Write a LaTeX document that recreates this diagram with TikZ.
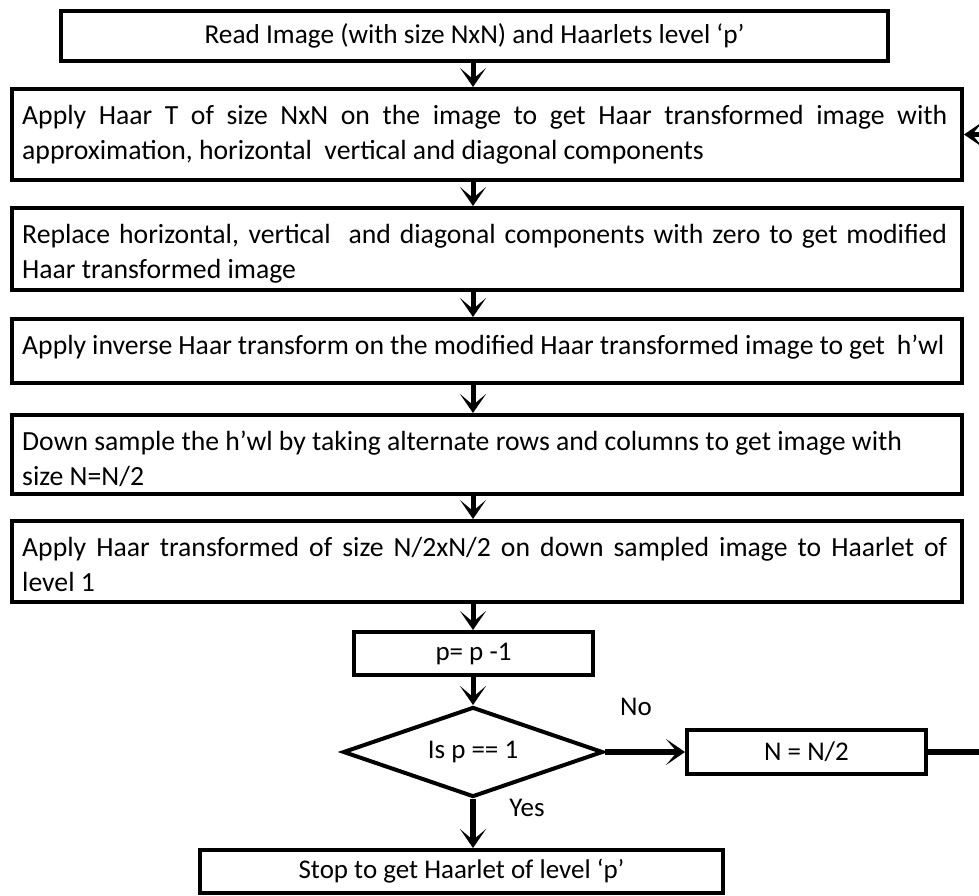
\documentclass[tikz,border=0pt]{standalone}
\usepackage{fontspec}
\setmainfont{Carlito}
\usetikzlibrary{arrows.meta,shapes.geometric,calc}

\tikzset{
  box/.style={draw, line width=4pt, rectangle, inner sep=0pt},
  txt/.style={inner sep=0pt, font=\fontsize{27pt}{35pt}\selectfont},
  body/.style={inner sep=0pt, font=\fontsize{27.7pt}{35pt}\selectfont},
  para/.style={body, anchor=north west, text width=925pt},
  arr/.style={line width=5pt, -{Stealth[length=19pt,width=26pt,inset=11pt]}},
  link/.style={line width=5pt},
}
\newcommand{\firstline}{\rule{0pt}{22pt}}

\begin{document}
\begin{tikzpicture}[x=1pt,y=-1pt]
  \useasboundingbox (0,0) rectangle (979,896);

  % process boxes
  \node[box, txt, font=\fontsize{27.3pt}{35pt}\selectfont, minimum width=827pt, minimum height=50pt] (b1) at (474.5,36)
    {Read Image (with size NxN) and Haarlets level ‘p’};
  \node[box, minimum width=950pt, minimum height=91pt] (b2) at (487,134.5) {};
  \node[box, minimum width=950pt, minimum height=82pt] (b3) at (487,249) {};
  \node[box, minimum width=950pt, minimum height=64pt] (b4) at (487,351) {};
  \node[box, minimum width=950pt, minimum height=79pt] (b5) at (487,454.5) {};
  \node[box, minimum width=950pt, minimum height=81pt] (b6) at (487,561.5) {};

  % box texts
  \node[para, align=justify] (t2) at ([xshift=12pt,yshift=-15pt]b2.north west)
    {\firstline Apply Haar T of size NxN on the image to get Haar transformed image with\linebreak
     approximation, horizontal\ \ vertical and diagonal components};
  \node[para, align=justify] (t3) at ([xshift=12pt,yshift=-15pt]b3.north west)
    {\firstline Replace horizontal, vertical\ \ and diagonal components with zero to get modified\linebreak
     Haar transformed image};
  \node[body, anchor=north west] (t4) at ([xshift=12pt,yshift=-15pt]b4.north west)
    {\firstline\makebox[922pt][s]{Apply inverse Haar transform on the modified Haar transformed image to get\ \ h’wl}};
  \node[body, anchor=north west, align=left] (t5) at ([xshift=12pt,yshift=-15pt]b5.north west)
    {\firstline Down sample the h’wl by taking alternate rows and columns to get image with\\
     size N=N/2};
  \node[para, align=justify] (t6) at ([xshift=12pt,yshift=-15pt]b6.north west)
    {\firstline Apply Haar transformed of size N/2xN/2 on down sampled image to Haarlet of\linebreak
     level 1};

  % loop part
  \node[box, txt, minimum width=239pt, minimum height=43pt] (dec) at (473.5,653.5) {p= p -1};
  \node[draw, line width=4pt, diamond, aspect=2.9, txt, minimum width=260pt, minimum height=90pt] (test) at (473,752) {Is p == 1};
  \node[box, txt, minimum width=239pt, minimum height=44pt] (half) at (806.5,752) {N = N/2};
  \node[box, txt, minimum width=523pt, minimum height=43pt] (stop) at (461.5,871.5) {Stop to get Haarlet of level ‘p’};

  \node[txt] (no) at (636,707) {No};
  \node[txt] (yes) at (527,808) {Yes};

  % connectors
  \coordinate (ax) at (473,0);
  \draw[arr] (b1.south -| ax) -- (b2.north -| ax);
  \draw[arr] (b2.south -| ax) -- (b3.north -| ax);
  \draw[arr] (b3.south -| ax) -- (b4.north -| ax);
  \draw[arr] (b4.south -| ax) -- (b5.north -| ax);
  \draw[arr] (b5.south -| ax) -- (b6.north -| ax);
  \draw[arr] (b6.south -| ax) -- (dec.north -| ax);
  \draw[arr] (dec.south -| ax) -- (test.north);
  \draw[arr, line width=6pt] (test.east) -- (half.west);
  \draw[arr, line width=6pt] (test.south) -- (stop.north -| test.south);

  % feedback from N = N/2 back to the Haar transform
  \coordinate (back) at (992,0);
  \draw[link, line width=6pt] (half.east) -- (half.east -| back) -- (b2.east -| back);
  \draw[arr] (b2.east -| back) -- (b2.east);
\end{tikzpicture}
\end{document}
